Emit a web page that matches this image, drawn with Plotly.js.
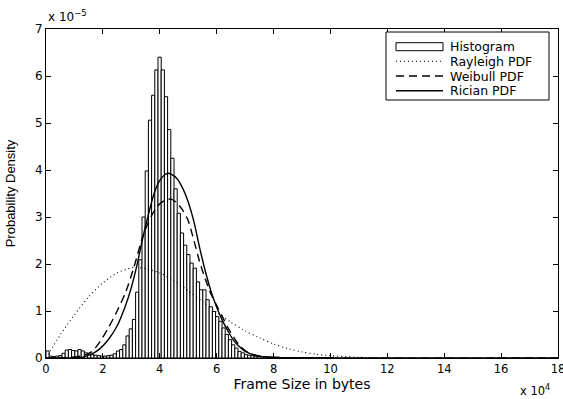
<!DOCTYPE html>
<html>
<head>
<meta charset="utf-8">
<script src="https://cdn.plot.ly/plotly-3.0.1.min.js"></script>
<style>html,body{margin:0;padding:0;background:#fff;}#chart{width:563px;height:399px;}</style>
</head>
<body>
<div id="chart"></div>
<script>
// Histogram: bin width and start in units of 1e4 bytes; densities in units of 1e-5
const histBinStart = 0.05625;   // centre of first bin (x 10^4 bytes)
const histBinWidth = 0.1125;    // bin width (x 10^4 bytes)
const histDensity = [
  0.15,0.04,0.03,0.04,0.05,0.10,0.17,0.18,0.16,0.15,
  0.18,0.15,0.11,0.08,0.07,0.06,0.05,0.04,0.04,0.05,
  0.06,0.09,0.15,0.18,0.28,0.47,0.62,0.82,1.40,2.09,
  3.00,3.98,5.06,5.59,6.13,6.40,6.13,5.56,4.86,4.25,
  3.60,3.08,2.66,2.40,2.20,2.02,1.91,1.62,1.45,1.45,
  1.24,1.09,0.99,0.88,0.78,0.64,0.50,0.39,0.28,0.21,
  0.14,0.11,0.07,0.06,0.05,0.04,0.04,0.03,0.03,0.02,
  0.02,0.02,0.02,0.01,0.01,0.01,0.01,0.01,0.01,0.01,
  0.01,0.01,0.01,0.01,0.01,0.01,0.01,0.01,0.01,0.01
];

// Rayleigh PDF
const rayleighX = [0,0.5,1,1.5,2,2.5,3,3.14,3.5,4,4.5,5,5.5,6,6.5,7,7.5,8,8.5,9,9.5,10,11,12,13,14,18];
const rayleighY = [0,0.49,0.92,1.3,1.6,1.81,1.92,1.93,1.9,1.81,1.64,1.43,1.2,0.97,0.76,0.58,0.43,0.3,0.2,0.13,0.08,0.05,0.015,0.004,0.001,0,0];

// Weibull PDF
const weibullX = [0,0.5,1.0,1.3,1.6,1.9,2.2,2.5,2.8,3.1,3.4,3.7,4.0,4.2,4.4,4.6,4.8,5.0,5.2,5.4,5.6,5.8,6.0,6.2,6.4,6.6,6.8,7.0,7.2,7.6,8.0,9,18];
const weibullY = [0,0,0.02,0.05,0.13,0.35,0.65,1.0,1.4,1.95,2.58,3.02,3.28,3.36,3.38,3.3,3.15,2.92,2.5,2.05,1.68,1.36,1.12,0.88,0.64,0.44,0.27,0.16,0.09,0.03,0.01,0,0];

// Rician PDF
const ricianX = [0,1.0,1.3,1.6,1.9,2.2,2.5,2.8,3.0,3.2,3.4,3.6,3.8,4.0,4.2,4.3,4.4,4.6,4.8,5.0,5.2,5.4,5.6,5.8,6.0,6.2,6.4,6.6,6.8,7.0,7.4,8.0,9,18];
const ricianY = [0,0,0.02,0.08,0.2,0.4,0.68,1.12,1.5,1.98,2.55,3.05,3.5,3.78,3.91,3.93,3.91,3.82,3.62,3.32,2.9,2.35,1.85,1.42,1.08,0.8,0.57,0.37,0.24,0.14,0.05,0.01,0,0];

const seriesNames = ['Histogram','Rayleigh PDF','Weibull PDF','Rician PDF'];
const xTicks = [0,2,4,6,8,10,12,14,16,18];
const yTicks = [0,1,2,3,4,5,6,7];

const hFont = 'DejaVu Sans, Liberation Sans, Arial, sans-serif';
const dotDash = '1px,3px';
const dashDash = '8px,5px';

const traces = [
  {type:'bar', name:seriesNames[0], y:histDensity, x0:histBinStart, dx:histBinWidth,
   width:histBinWidth, marker:{color:'#ffffff', line:{color:'#000000', width:1}}},
  {type:'scatter', mode:'lines', name:seriesNames[1], x:rayleighX, y:rayleighY,
   line:{color:'#000', width:1.1, dash:dotDash, shape:'spline', smoothing:0.8}},
  {type:'scatter', mode:'lines', name:seriesNames[2], x:weibullX, y:weibullY,
   line:{color:'#000', width:1.4, dash:dashDash, shape:'spline', smoothing:0.8}},
  {type:'scatter', mode:'lines', name:seriesNames[3], x:ricianX, y:ricianY,
   line:{color:'#000', width:1.4, shape:'spline', smoothing:0.8}}
];

// legend drawn in pixel positions converted to paper coordinates
const M = {l:46, r:5, t:29, b:41};
const W = 563, H = 399;
const pw = W - M.l - M.r, ph = H - M.t - M.b;
const px2x = p => (p - M.l) / pw;
const px2y = p => (H - M.b - p) / ph;

const legBox = {x0:386, x1:549, y0:32, y1:100};
const rowsY = [46.7, 61.3, 76.0, 90.7];
const symX0 = 396, symX1 = 443, textX = 448;

const shapes = [
  {type:'rect', xref:'paper', yref:'paper', layer:'above',
   x0:px2x(legBox.x0), x1:px2x(legBox.x1), y0:px2y(legBox.y1), y1:px2y(legBox.y0),
   fillcolor:'#fff', line:{color:'#000', width:1}},
  {type:'rect', xref:'paper', yref:'paper', layer:'above',
   x0:px2x(symX0), x1:px2x(symX1), y0:px2y(rowsY[0]+4), y1:px2y(rowsY[0]-4),
   fillcolor:'#fff', line:{color:'#000', width:1}},
  {type:'line', xref:'paper', yref:'paper', layer:'above',
   x0:px2x(symX0), x1:px2x(symX1), y0:px2y(rowsY[1]), y1:px2y(rowsY[1]),
   line:{color:'#000', width:1.1, dash:dotDash}},
  {type:'line', xref:'paper', yref:'paper', layer:'above',
   x0:px2x(symX0), x1:px2x(symX1), y0:px2y(rowsY[2]), y1:px2y(rowsY[2]),
   line:{color:'#000', width:1.4, dash:dashDash}},
  {type:'line', xref:'paper', yref:'paper', layer:'above',
   x0:px2x(symX0), x1:px2x(symX1), y0:px2y(rowsY[3]), y1:px2y(rowsY[3]),
   line:{color:'#000', width:1.4}}
];

const annotations = seriesNames.map((n, i) => ({
  xref:'paper', yref:'paper', x:px2x(textX), y:px2y(rowsY[i]), xanchor:'left', yanchor:'middle',
  showarrow:false, text:n, font:{family:hFont, size:12.5, color:'#000'}
}));
annotations.push(
  {xref:'paper', yref:'paper', x:0, y:1, xanchor:'left', yanchor:'bottom', yshift:3, showarrow:false,
   text:'x 10<sup>\u22125</sup>', font:{family:hFont, size:12, color:'#000'}},
  {xref:'paper', yref:'paper', x:1, y:0, xanchor:'right', yanchor:'top', yshift:-23, xshift:-6, showarrow:false,
   text:'x 10<sup>4</sup>', font:{family:hFont, size:11.5, color:'#000'}}
);

const layout = {
  width:W, height:H,
  margin:{l:M.l, r:M.r, t:M.t, b:M.b, pad:0},
  paper_bgcolor:'#fff', plot_bgcolor:'#fff',
  bargap:0,
  showlegend:false,
  xaxis:{range:[0,18], tickvals:xTicks, ticktext:xTicks.map(String), ticks:'inside', ticklen:5,
         showline:true, mirror:'ticks', linecolor:'#000', linewidth:1, tickcolor:'#000',
         ticklabeloverflow:'allow',
         showgrid:false, zeroline:false, tickfont:{family:hFont, size:11.5, color:'#000'},
         title:{text:'Frame Size in bytes', font:{family:hFont, size:14, color:'#000'}, standoff:4}},
  yaxis:{range:[0,7], tickvals:yTicks, ticktext:yTicks.map(String), ticks:'inside', ticklen:5,
         showline:true, mirror:'ticks', linecolor:'#000', linewidth:1, tickcolor:'#000',
         ticklabeloverflow:'allow',
         showgrid:false, zeroline:false, tickfont:{family:hFont, size:12, color:'#000'},
         title:{text:'Probability Density', font:{family:'Liberation Sans, Arial, sans-serif', size:13, color:'#000'}, standoff:16}},
  shapes:shapes,
  annotations:annotations
};

Plotly.newPlot('chart', traces, layout, {staticPlot:true, displayModeBar:false});
</script>
</body>
</html>
